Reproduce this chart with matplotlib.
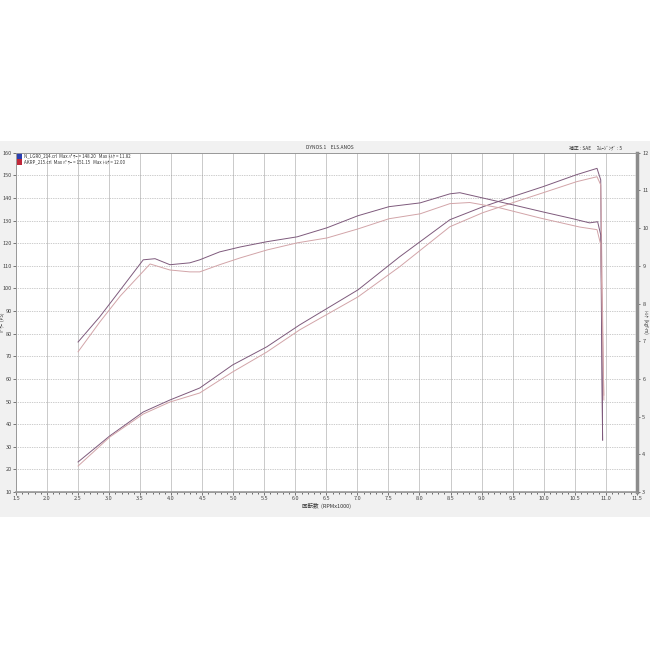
import numpy as np
import matplotlib
matplotlib.use('Agg')
from matplotlib import pyplot as plt
from matplotlib.patches import Rectangle

plt.rcParams['font.family'] = ['Noto Sans CJK JP', 'DejaVu Sans']

# run A (dark) / run B (light)
rpm_pa = [2.50, 3.01, 3.55, 3.98, 4.46, 4.99, 5.54, 6.07, 7.01, 7.68, 8.49,
          9.02, 9.50, 9.99, 10.53, 10.86, 10.92, 10.95]
ps_a = [23.3, 34.8, 45.4, 50.7, 56.0, 66.2, 74.2, 83.9, 99.4, 114.0, 130.4,
        136.1, 140.6, 145.0, 150.3, 153.1, 148.0, 33.0]

rpm_pb = [2.50, 3.01, 3.55, 3.98, 4.46, 4.99, 5.54, 6.07, 7.01, 7.68, 8.49,
          9.02, 9.50, 9.99, 10.53, 10.86, 10.92, 10.97]
ps_b = [21.5, 34.3, 44.5, 49.8, 53.8, 63.1, 71.9, 81.7, 96.3, 109.6, 127.3,
        133.5, 137.9, 142.3, 147.2, 149.4, 145.8, 50.7]

rpm_ta = [2.50, 2.85, 3.18, 3.55, 3.74, 3.98, 4.30, 4.46, 4.78, 5.11, 5.54,
          6.03, 6.51, 7.01, 7.51, 8.01, 8.49, 8.65, 9.02, 9.50, 9.99, 10.47,
          10.74, 10.87, 10.92, 10.95]
tq_a = [6.98, 7.65, 8.36, 9.16, 9.19, 9.03, 9.08, 9.16, 9.37, 9.50, 9.64,
        9.77, 10.01, 10.33, 10.57, 10.67, 10.91, 10.94, 10.80, 10.62, 10.43,
        10.25, 10.14, 10.17, 9.82, 4.38]

rpm_tb = [2.50, 2.85, 3.18, 3.66, 3.98, 4.30, 4.46, 4.78, 5.11, 5.54, 6.03,
          6.51, 7.01, 7.51, 8.01, 8.49, 8.81, 9.29, 9.94, 10.58, 10.86,
          10.92, 10.97]
tq_b = [6.72, 7.51, 8.20, 9.05, 8.89, 8.84, 8.84, 9.03, 9.21, 9.42, 9.61,
        9.74, 9.98, 10.25, 10.38, 10.65, 10.68, 10.54, 10.27, 10.03, 9.96,
        9.56, 5.57]

legend_a = 'N_LGR0_214.crl  Max ﾊﾟﾜｰ = 148.20   Max ﾄﾙｸ = 11.82'
legend_b = 'AKRP_215.crl  Max ﾊﾟﾜｰ = 151.15   Max ﾄﾙｸ = 12.00'

col_a = '#7e5a7c'
col_b = '#d2a4a8'

fig = plt.figure(figsize=(6.5, 6.5), dpi=100)
fig.patch.set_facecolor('white')
fig.patches.append(Rectangle((0, 0.205), 1, 0.578, transform=fig.transFigure,
                             facecolor='#f1f1f1', edgecolor='none', zorder=-5))

ax = fig.add_axes([0.0246, 0.243, 0.955, 0.522])
ax.set_facecolor('white')
ax.set_xlim(1.5, 11.5)
ax.set_ylim(10, 160)
ax.set_xticks(np.arange(1.5, 11.51, 0.5))
ax.set_xticklabels(['%.1f' % v for v in np.arange(1.5, 11.51, 0.5)])
ax.set_xticks(np.arange(1.5, 11.51, 0.1), minor=True)
ax.set_yticks(np.arange(10, 161, 10))
ax.tick_params(axis='both', labelsize=4, length=2, width=0.5, pad=1,
               colors='#444444')
ax.tick_params(axis='x', which='minor', length=1.2, width=0.4)
ax.grid(axis='x', color='#b5b5b5', linewidth=0.5, linestyle='-')
ax.grid(axis='y', color='#9a9a9a', linewidth=0.5, linestyle=(0, (1, 1.5)))
ax.set_axisbelow(True)

ax2 = ax.twinx()
ax2.set_ylim(3, 12)
ax2.set_yticks(np.arange(3, 12.1, 1))
ax2.tick_params(axis='y', labelsize=4, length=2, width=0.5, pad=2,
                colors='#444444')

for a in (ax, ax2):
    for s in a.spines.values():
        s.set_color('#999999')
        s.set_linewidth(0.6)
ax2.spines['right'].set_color('#8c8c8c')
ax2.spines['right'].set_linewidth(2.5)
ax.spines['bottom'].set_linewidth(1.2)

ax.plot(rpm_pa, ps_a, color=col_a, linewidth=0.7)
ax.plot(rpm_pb, ps_b, color=col_b, linewidth=0.7)
ax2.plot(rpm_ta, tq_a, color=col_a, linewidth=0.7)
ax2.plot(rpm_tb, tq_b, color=col_b, linewidth=0.7)

ax.set_xlabel('回転数  (RPMx1000)', fontsize=4, labelpad=1, color='#333333')
fig.text(0.004, 0.505, 'ﾊﾟﾜｰ  (PS)', fontsize=3.2, rotation=90, ha='center',
         va='center', color='#333333')
fig.text(0.994, 0.505, 'ﾄﾙｸ  (kgf-m)', fontsize=3.2, rotation=270,
         ha='center', va='center', color='#333333')

# legend boxes
ax.add_patch(Rectangle((1.52, 157.3), 0.08, 2.5, facecolor='#2a3fb0',
                       edgecolor='none', zorder=5))
ax.add_patch(Rectangle((1.52, 154.6), 0.08, 2.5, facecolor='#c0283a',
                       edgecolor='none', zorder=5))
ax.text(1.63, 158.5, legend_a, fontsize=3.2, va='center', color='#333333')
ax.text(1.63, 155.8, legend_b, fontsize=3.2, va='center', color='#333333')

fig.text(0.508, 0.773, 'DYNOS.1    ELS.ANOS', fontsize=3.5, ha='center',
         va='center', color='#333333')
fig.text(0.875, 0.773, '補正 : SAE     ｽﾑｰｼﾞﾝｸﾞ : 5', fontsize=3.5,
         ha='left', va='center', color='#333333')

fig.savefig('out.png', dpi=100)
